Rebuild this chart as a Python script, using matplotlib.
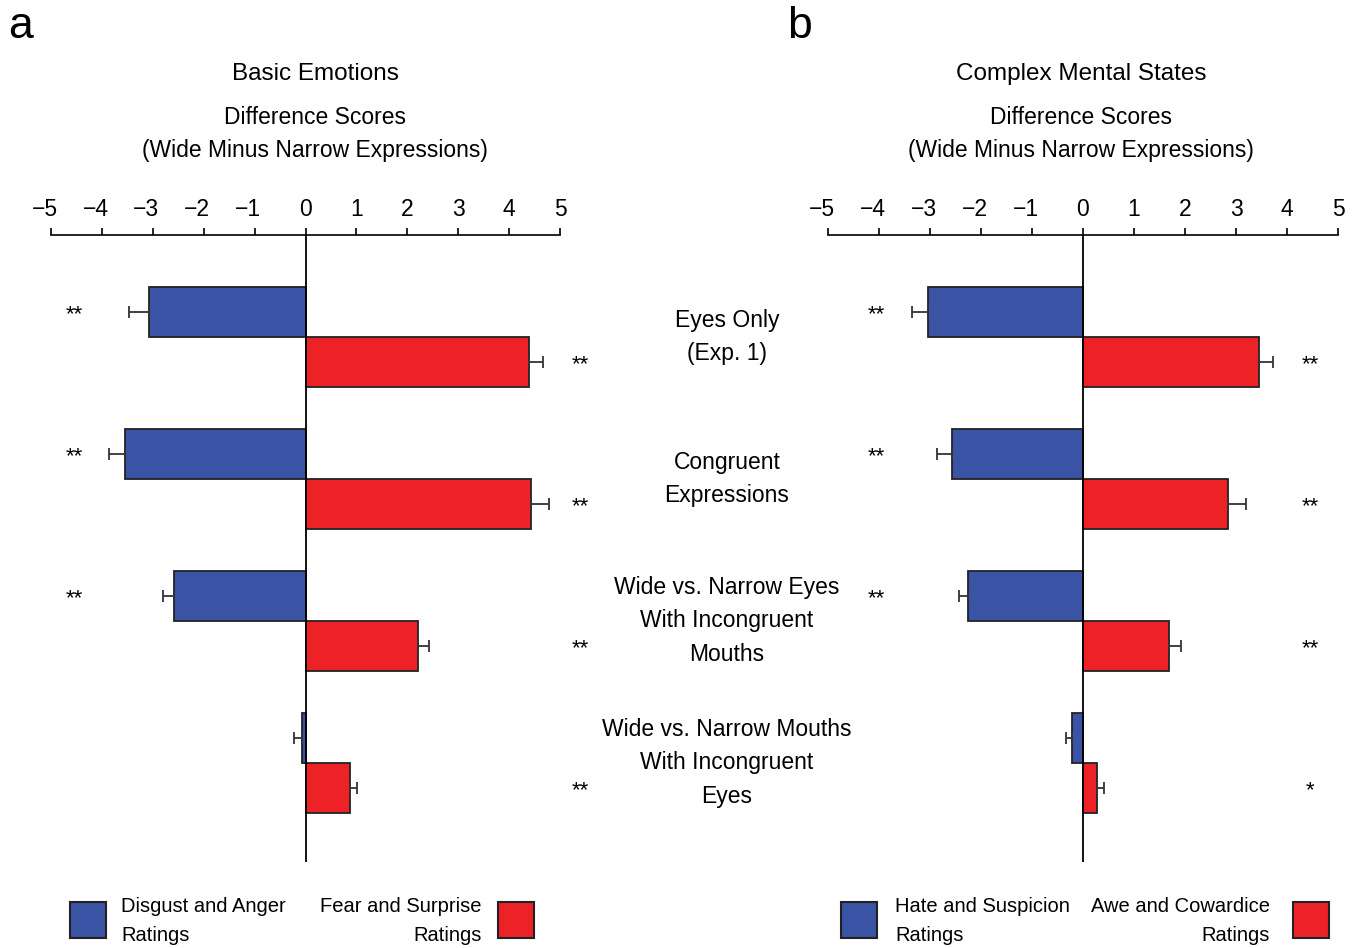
import numpy as np
import matplotlib
matplotlib.use("Agg")
from matplotlib import pyplot as plt
from matplotlib.patches import Rectangle
from matplotlib.transforms import ScaledTranslation

plt.rcParams['font.family'] = ['Liberation Sans', 'DejaVu Sans']

# data
conditions = ["Eyes Only\n(Exp. 1)", "Congruent\nExpressions",
              "Wide vs. Narrow Eyes\nWith Incongruent\nMouths",
              "Wide vs. Narrow Mouths\nWith Incongruent\nEyes"]

basic_neg = [-3.08, -3.55, -2.59, -0.07]
basic_neg_err = [0.39, 0.31, 0.21, 0.15]
basic_pos = [4.39, 4.43, 2.22, 0.88]
basic_pos_err = [0.28, 0.35, 0.21, 0.14]
basic_neg_sig = ["**", "**", "**", ""]
basic_pos_sig = ["**", "**", "**", "**"]

complex_neg = [-3.04, -2.57, -2.25, -0.22]
complex_neg_err = [0.31, 0.29, 0.18, 0.11]
complex_pos = [3.45, 2.84, 1.69, 0.27]
complex_pos_err = [0.28, 0.36, 0.23, 0.14]
complex_neg_sig = ["**", "**", "**", ""]
complex_pos_sig = ["**", "**", "**", "*"]

blue = "#3A53A4"
red = "#EC2227"
W, H = 1356, 948

fig = plt.figure(figsize=(W / 100, H / 100), dpi=100)

def px_box(x0, x1, y0, y1):
    return [x0 / W, 1 - y1 / H, (x1 - x0) / W, (y1 - y0) / H]

def panel(x0, x1, neg, neg_err, pos, pos_err, neg_sig, pos_sig, sig_x):
    ax = fig.add_axes(px_box(x0, x1, 235, 862))
    y = np.arange(len(neg))
    h = 0.352
    ax.barh(y - h / 2, neg, height=h, color=blue, edgecolor="#222222", linewidth=1.3)
    ax.barh(y + h / 2, pos, height=h, color=red, edgecolor="#222222", linewidth=1.3)
    ax.errorbar(neg, y - h / 2, xerr=[neg_err, np.zeros(len(neg))], fmt="none",
                ecolor="#333333", elinewidth=1.3, capsize=4, capthick=1.3)
    ax.errorbar(pos, y + h / 2, xerr=[np.zeros(len(pos)), pos_err], fmt="none",
                ecolor="#333333", elinewidth=1.3, capsize=4, capthick=1.3)
    # stars: baseline shifted so the asterisks sit on the bar centre
    star_off = ScaledTranslation(0, -0.08, fig.dpi_scale_trans)
    for i in range(len(neg)):
        ax.text(sig_x[0], i - h / 2, neg_sig[i], ha="center", va="baseline", fontsize=16,
                transform=ax.transData + star_off)
        ax.text(sig_x[1], i + h / 2, pos_sig[i], ha="center", va="baseline", fontsize=16,
                transform=ax.transData + star_off)
    ax.axvline(0, color="black", lw=1.3)
    ax.set_xlim(-5, 5)
    ax.set_ylim(3.697, -0.718)
    ax.set_xticks(range(-5, 6))
    ax.set_xticklabels([("\u2212%d" % -v) if v < 0 else str(v) for v in range(-5, 6)])
    ax.xaxis.tick_top()
    ax.tick_params(axis="x", direction="out", length=5, width=1.2, pad=5, labelsize=16.5)
    for v, lab in zip(range(-5, 6), ax.get_xticklabels()):
        if v < 0:
            lab.set_transform(lab.get_transform() + ScaledTranslation(-0.065, 0, fig.dpi_scale_trans))
    ax.set_yticks([])
    for s in ["left", "right", "bottom"]:
        ax.spines[s].set_visible(False)
    ax.spines["top"].set_linewidth(1.2)
    ax.patch.set_visible(False)
    return ax

ax1 = panel(51, 560, basic_neg, basic_neg_err, basic_pos, basic_pos_err,
            basic_neg_sig, basic_pos_sig, (-4.55, 5.39))
ax2 = panel(828, 1338, complex_neg, complex_neg_err, complex_pos, complex_pos_err,
            complex_neg_sig, complex_pos_sig, (-4.06, 4.45))

def ftext(x, y, s, **kw):
    fig.text(x / W, 1 - y / H, s, **kw)

# panel letters and titles
ftext(21, 27, "a", fontsize=32, ha="center", va="center")
ftext(799, 27, "b", fontsize=32, ha="center", va="center")
ftext(315, 74, "Basic Emotions", fontsize=17.5, ha="center", va="center")
ftext(1081, 74, "Complex Mental States", fontsize=17.5, ha="center", va="center")
for cx in (315, 1081):
    ftext(cx, 118, "Difference Scores", fontsize=16.5, ha="center", va="center")
    ftext(cx, 150, "(Wide Minus Narrow Expressions)", fontsize=16.5, ha="center", va="center")

# condition labels in the middle
for i, c in enumerate(conditions):
    ftext(727, 337 + 142 * i, c, fontsize=16.5, ha="center", va="center",
          multialignment="center", linespacing=1.58)

# legends
def legend_box(x0, color):
    fig.patches.append(Rectangle((x0 / W, 1 - 938 / H), 36 / W, 36 / H,
                                 transform=fig.transFigure, facecolor=color,
                                 edgecolor="#222222", linewidth=1.5))

legend_box(70, blue)
legend_box(498, red)
legend_box(841, blue)
legend_box(1293, red)
ftext(121, 921, "Disgust and Anger\nRatings", fontsize=14.5, ha="left", va="center", linespacing=1.62)
ftext(482, 921, "Fear and Surprise\nRatings", fontsize=14.5, ha="right", va="center",
      multialignment="right", linespacing=1.62)
ftext(895, 921, "Hate and Suspicion\nRatings", fontsize=14.5, ha="left", va="center", linespacing=1.62)
ftext(1270, 921, "Awe and Cowardice\nRatings", fontsize=14.5, ha="right", va="center",
      multialignment="right", linespacing=1.62)

fig.savefig("out.png", dpi=100)
